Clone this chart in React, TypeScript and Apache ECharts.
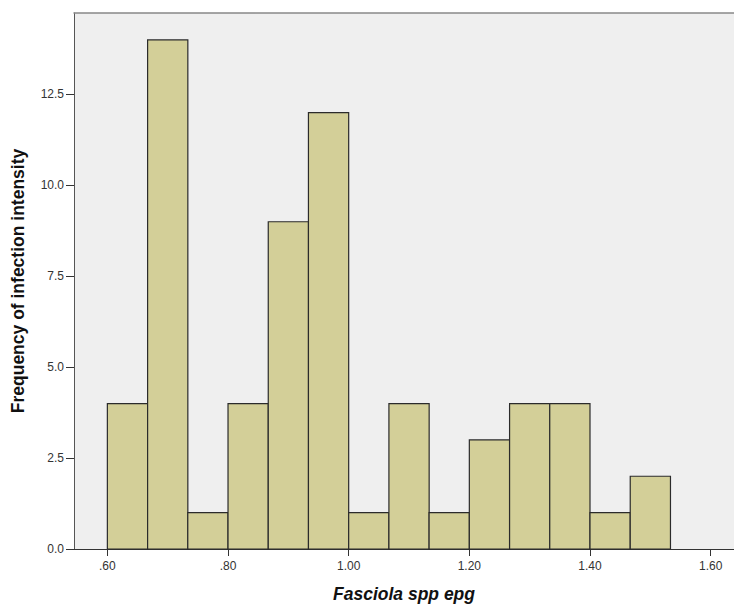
import React, { useEffect, useRef } from "react";
import * as echarts from "echarts";

const binStarts = [0.6, 0.6667, 0.7333, 0.8, 0.8667, 0.9333, 1.0, 1.0667, 1.1333, 1.2, 1.2667, 1.3333, 1.4, 1.4667];
const binWidth = 0.0667;
const frequencies = [4, 14, 1, 4, 9, 12, 1, 4, 1, 3, 4, 4, 1, 2];
const xTicks = [0.6, 0.8, 1.0, 1.2, 1.4, 1.6];
const yTicks = [0, 2.5, 5, 7.5, 10, 12.5];

const fmtX = (v: number) => {
  const s = v.toFixed(2);
  return s.startsWith("0") ? s.slice(1) : s;
};

export default function App() {
  const ref = useRef<HTMLDivElement>(null);
  useEffect(() => {
    if (!ref.current) return;
    const chart = echarts.init(ref.current, null, { renderer: "svg" });
    const font = "Liberation Sans, Arial, sans-serif";
    const data = binStarts.map((s, i) => [s, s + binWidth, frequencies[i]]);
    chart.setOption({
      animation: false,
      grid: {
        left: 74,
        top: 13,
        right: 0,
        bottom: 59,
        show: true,
        backgroundColor: "#efefef",
        borderWidth: 0,
      },
      xAxis: [
        {
          type: "value",
          min: 0.5447,
          max: 1.6387,
          position: "bottom",
          axisLine: { show: true, lineStyle: { color: "#333", width: 1 } },
          axisTick: { show: true, length: 7, lineStyle: { color: "#333" }, customValues: xTicks },
          axisLabel: {
            customValues: xTicks,
            formatter: (v: number) => fmtX(v),
            color: "#333",
            fontFamily: font,
            fontSize: 12,
            margin: 11,
          },
          splitLine: { show: false },
          name: "Fasciola spp epg",
          nameLocation: "middle",
          nameGap: 36,
          nameTextStyle: {
            fontFamily: font,
            fontSize: 17.5,
            fontWeight: "bold",
            fontStyle: "italic",
            color: "#111",
          },
        },
        {
          type: "value",
          min: 0.5447,
          max: 1.6387,
          position: "top",
          axisLine: { show: true, lineStyle: { color: "#888", width: 1.5 } },
          axisTick: { show: false },
          axisLabel: { show: false },
          splitLine: { show: false },
        },
      ],
      yAxis: {
        type: "value",
        min: 0,
        max: 14.74,
        axisLine: { show: true, lineStyle: { color: "#555", width: 1 } },
        axisTick: { show: true, length: 8, lineStyle: { color: "#333" }, customValues: yTicks },
        axisLabel: {
          customValues: yTicks,
          formatter: (v: number) => v.toFixed(1),
          color: "#333",
          fontFamily: font,
          fontSize: 12,
          margin: 10,
        },
        splitLine: { show: false },
        name: "Frequency of infection intensity",
        nameLocation: "middle",
        nameGap: 47,
        nameTextStyle: {
          fontFamily: font,
          fontSize: 17.5,
          fontWeight: "bold",
          color: "#111",
        },
      },
      series: [
        {
          type: "custom",
          xAxisIndex: 0,
          encode: { x: [0, 1], y: 2 },
          data,
          renderItem: (params: any, api: any) => {
            const p0 = api.coord([api.value(0), api.value(2)]);
            const p1 = api.coord([api.value(1), 0]);
            return {
              type: "rect",
              shape: { x: p0[0], y: p0[1], width: p1[0] - p0[0], height: p1[1] - p0[1] },
              style: { fill: "#d3cf98", stroke: "#2b2b2b", lineWidth: 1.2 },
            };
          },
        },
      ],
    });
    return () => chart.dispose();
  }, []);
  return (
    <div
      ref={ref}
      style={{ position: "absolute", left: 0, top: 0, width: 734, height: 608 }}
    />
  );
}
